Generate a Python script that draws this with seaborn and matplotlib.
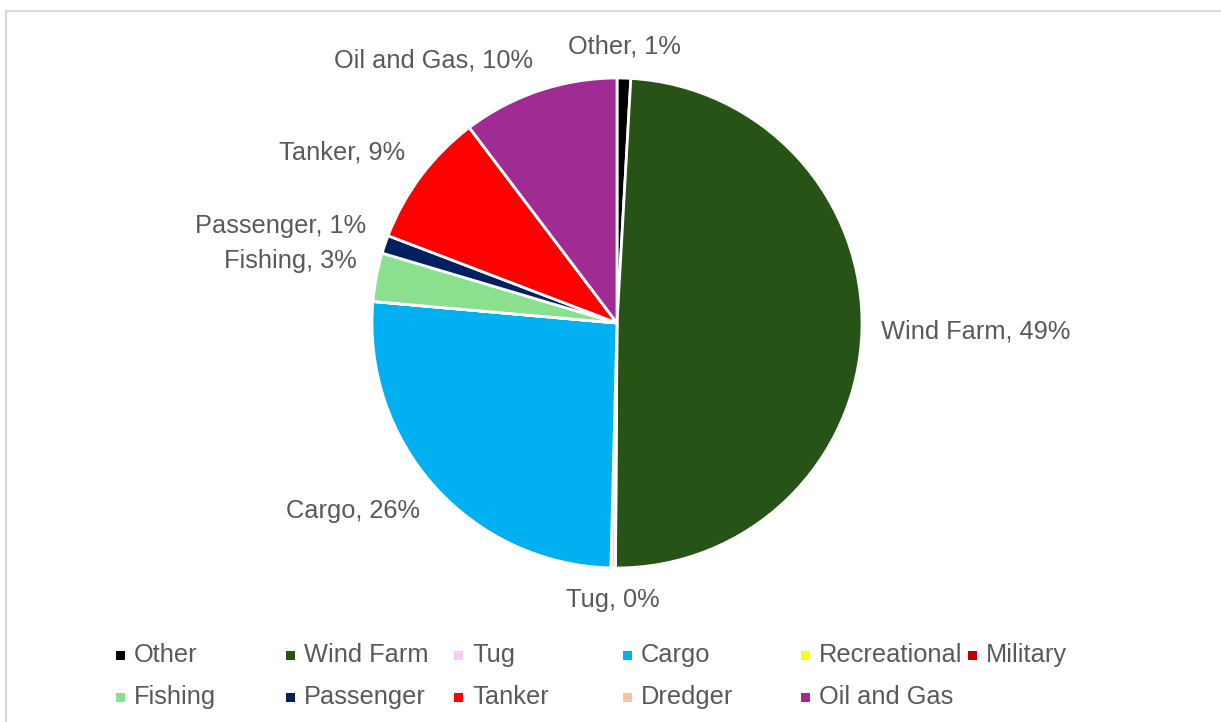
import numpy as np
import seaborn as sns
import matplotlib.pyplot as plt
from matplotlib.patches import Rectangle
from matplotlib.lines import Line2D

# Vessel type share
categories = ["Other", "Wind Farm", "Tug", "Cargo", "Recreational", "Military",
              "Fishing", "Passenger", "Tanker", "Dredger", "Oil and Gas"]
shares = [0.9, 49.2, 0.3, 26.0, 0.0, 0.0, 3.2, 1.2, 8.9, 0.0, 10.3]
colors = ["#000000", "#275317", "#F2CEEF", "#00B0F0", "#FFFF00", "#C00000",
          "#8AE08F", "#002060", "#FF0000", "#F4C3A8", "#A02B93"]

sns.set_theme(style="white")
plt.rcParams["font.family"] = ["Liberation Sans", "DejaVu Sans"]

W, H = 1221, 722
TEXT = "#595959"
FS = 18.3

fig = plt.figure(figsize=(W / 100, H / 100), dpi=100)

# pie centre (617, 323) px, radius 245 px
cx, cy, r = 617, 323, 245
ax = fig.add_axes([(cx - r) / W, (H - cy - r) / H, 2 * r / W, 2 * r / H])

wedges, _ = ax.pie(
    shares,
    colors=colors,
    startangle=90,
    counterclock=False,
    radius=1,
    wedgeprops=dict(edgecolor="white", linewidth=2),
)
ax.set_xlim(-1, 1)
ax.set_ylim(-1, 1)
ax.set_aspect("equal")
ax.axis("off")

# data labels "Name, x%" just outside each non-zero wedge,
# anchored by the label corner nearest to the pie (like Excel)
total = sum(shares)
for w, name, val in zip(wedges, categories, shares):
    if val == 0:
        continue
    ang = np.deg2rad((w.theta1 + w.theta2) / 2)
    x, y = np.cos(ang), np.sin(ang)
    d = 1.08
    if abs(x) < 0.15:
        ha = "center"
    else:
        ha = "left" if x > 0 else "right"
    if abs(y) < 0.1:
        va = "center"
    else:
        va = "bottom" if y > 0 else "top"
    pct = round(val / total * 100)
    ax.text(d * x, d * y, f"{name}, {pct}%", ha=ha, va=va,
            fontsize=FS, color=TEXT)

# legend laid out in Excel-style grid (row-major, 6 columns)
legend_x = [120, 290, 458, 627, 805, 972]
legend_y = [655, 697]
sq = 9
for i, (name, col) in enumerate(zip(categories, colors)):
    row, c = divmod(i, 6)
    mx, my = legend_x[c], legend_y[row]
    fig.add_artist(Rectangle(((mx - sq / 2) / W, (H - my - sq / 2) / H),
                             sq / W, sq / H, transform=fig.transFigure,
                             facecolor=col, edgecolor="none"))
    fig.text((mx + 14) / W, (H - my) / H, name, ha="left", va="center",
             fontsize=FS, color=TEXT)

# chart-area frame (top and left edges visible)
fig.add_artist(Line2D([6 / W, 1], [1 - 11 / H, 1 - 11 / H],
                      transform=fig.transFigure, color="#D9D9D9", linewidth=1.6))
fig.add_artist(Line2D([6 / W, 6 / W], [0, 1 - 11 / H],
                      transform=fig.transFigure, color="#D9D9D9", linewidth=1.6))

fig.savefig("out.png", dpi=100, facecolor="white")
